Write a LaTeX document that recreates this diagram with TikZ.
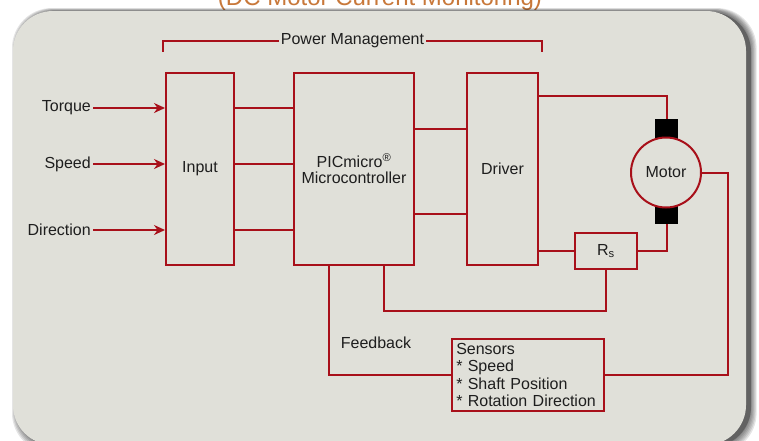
\documentclass[tikz,border=0pt]{standalone}
\usepackage{fontspec}
\setmainfont{Liberation Sans}
\usetikzlibrary{arrows.meta,calc}
\definecolor{myred}{HTML}{A8101A}
\definecolor{panelbg}{HTML}{E0E0D9}
\definecolor{titleor}{HTML}{C8783A}
\definecolor{txt}{HTML}{1E1E1E}
\begin{document}
\begin{tikzpicture}[x=1pt,y=-1pt,
  lbl/.style={text=txt,font=\fontsize{16}{17}\selectfont,inner sep=2pt},
  box/.style={draw=myred,line width=2pt,inner sep=0pt,text=txt,font=\fontsize{16}{17}\selectfont},
  wire/.style={draw=myred,line width=2pt},
  arr/.style={wire,-{Stealth[length=11pt,width=10pt]}},
  brush/.style={fill=black,draw=none,minimum width=23pt,inner sep=0pt}]
\useasboundingbox (0,0) rectangle (759,440);
\clip (0,0) rectangle (759,440);
\fill[white] (0,0) rectangle (759,440);
\node[font=\fontsize{24}{28}\selectfont,text=titleor,anchor=base,inner sep=0pt] (title) at (380,5) {(DC Motor Current Monitoring)};
% panel shadow and panel
\foreach \s in {1,...,6}
  \fill[black,opacity=0.1,rounded corners=40pt] (18-\s,11-\s*0.5) rectangle (750+\s*1.1,447+\s);
\fill[black,opacity=0.25,rounded corners=40pt] (16,12) rectangle (751,447);
\fill[panelbg,rounded corners=40pt] (13,11) rectangle (746,445);

% blocks
\node[box,minimum width=68pt,minimum height=192pt] (input) at (200,168.5) {Input};
\node[box,minimum width=120pt,minimum height=192pt,align=center] (pic) at (354,168.5) {PICmicro\textsuperscript{®}\\[-1pt]Microcontroller};
\node[box,minimum width=71pt,minimum height=192pt] (drv) at (502.5,168.5) {Driver};
\node[brush,minimum height=21pt] (brT) at (666.5,129.5) {};
\node[brush,minimum height=19pt] (brB) at (666.5,214.5) {};
\node[box,circle,fill=panelbg,minimum size=70pt] (motor) at (666,172.5) {Motor};
\node[box,minimum width=62pt,minimum height=36pt] (rs) at (606,251) {R\textsubscript{s}};
\node[box,minimum width=151.5pt,minimum height=72pt,align=left,text width=143.5pt,inner xsep=4pt,font=\fontsize{16}{17.3}\selectfont] (sens) at (528,375)
  {Sensors\\{}* Speed\\{}* Shaft Position\\{}* Rotation Direction};

% inputs
\node[lbl,anchor=east] (torque) at (93,108) {Torque};
\node[lbl,anchor=east] (speed) at (93,164) {Speed};
\node[lbl,anchor=east] (dir) at (93,230) {Direction};
\draw[arr] (torque.east) -- (torque -| input.west);
\draw[arr] (speed.east) -- (speed -| input.west);
\draw[arr] (dir.east) -- (dir -| input.west);

% input -> pic
\draw[wire] (torque -| input.east) -- (torque -| pic.west);
\draw[wire] (speed -| input.east) -- (speed -| pic.west);
\draw[wire] (dir -| input.east) -- (dir -| pic.west);

% pic -> driver
\coordinate (pd1) at (440,129);
\coordinate (pd2) at (440,214);
\draw[wire] (pd1 -| pic.east) -- (pd1 -| drv.west);
\draw[wire] (pd2 -| pic.east) -- (pd2 -| drv.west);

% driver -> motor
\coordinate (dm) at (600,96);
\draw[wire] (dm -| drv.east) -| (brT.north);
\draw[wire] (rs -| drv.east) -- (rs.west);
\draw[wire] (rs.east) -| (brB.south);

% motor -> sensors
\coordinate (mr) at (728,300);
\draw[wire] (motor.east) -| (mr) |- (sens.east);

% Rs feedback to pic
\coordinate (fb) at (384,311);
\draw[wire] (rs.south) |- (fb) -- (fb |- pic.south);

% sensors -> pic
\coordinate (fs) at (329,300);
\draw[wire] (sens.west) -| (fs) -- (fs |- pic.south);
\node[lbl] (fbl) at (376,343) {Feedback};

% power management
\node[lbl] (pm) at (352.5,40.5) {Power Management};
\coordinate (pmL) at (163,52);
\coordinate (pmR) at (542,52);
\draw[wire] (pm.west) -| (pmL);
\draw[wire] (pm.east) -| (pmR);
\end{tikzpicture}
\end{document}
